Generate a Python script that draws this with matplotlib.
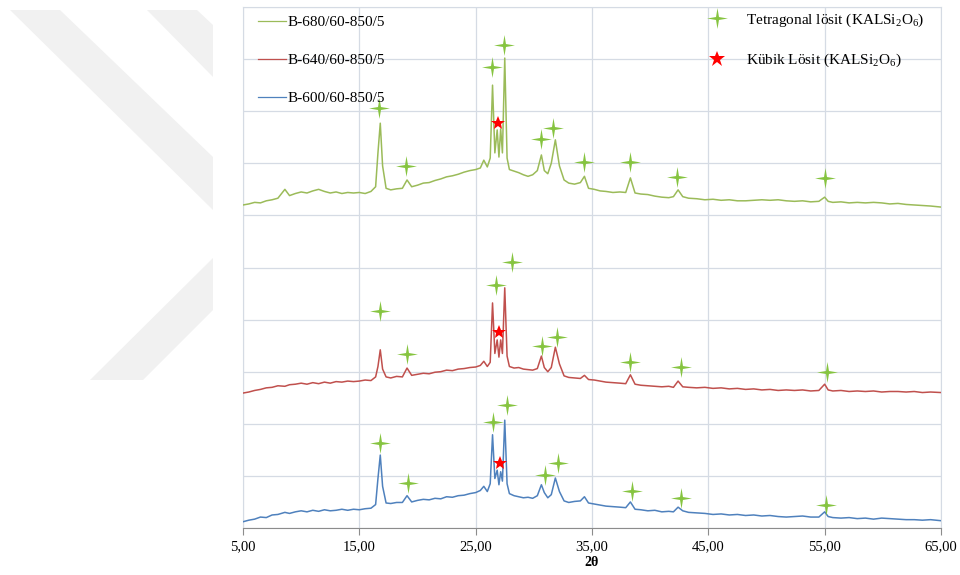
import numpy as np
import matplotlib
matplotlib.use("Agg")
import matplotlib.pyplot as plt
from matplotlib.path import Path
from matplotlib.patches import Polygon
from matplotlib.lines import Line2D

plt.rcParams['font.family'] = ['Liberation Serif', 'DejaVu Serif']
plt.rcParams['mathtext.fontset'] = 'custom'
plt.rcParams['mathtext.rm'] = 'Liberation Serif'

# 2-theta positions shared by the three patterns
two_theta = [5, 5.5, 6, 6.5, 7, 7.5, 8, 8.6, 9, 9.5,
             10, 10.5, 11, 11.5, 12, 12.5, 13, 13.5, 14, 14.5,
             15, 15.5, 16, 16.4, 16.6, 16.8, 17.0, 17.3, 17.7, 18.2,
             18.7, 19.1, 19.5, 20, 20.5, 21, 21.5, 22, 22.5, 23,
             23.5, 24, 24.5, 25, 25.4, 25.7, 26.0, 26.25, 26.45, 26.65,
             26.85, 27.0, 27.15, 27.3, 27.5, 27.7, 27.9, 28.3, 28.7, 29.1,
             29.5, 29.9, 30.3, 30.65, 30.9, 31.2, 31.5, 31.85, 32.2, 32.6,
             33.0, 33.5, 34.0, 34.35, 34.7, 35.2, 35.7, 36.2, 36.8, 37.4,
             37.9, 38.3, 38.7, 39.2, 39.8, 40.4, 41.0, 41.6, 42.0, 42.4,
             42.8, 43.3, 44.0, 44.7, 45.4, 46.1, 46.8, 47.5, 48.2, 48.9,
             49.6, 50.3, 51.0, 51.7, 52.4, 53.1, 53.8, 54.5, 55.0, 55.3,
             55.7, 56.4, 57.1, 57.8, 58.5, 59.2, 59.9, 60.6, 61.3, 62.0,
             62.7, 63.4, 64.1, 65]

# intensities (offset, arbitrary units)
b680 = [6.20, 6.22, 6.25, 6.24, 6.28, 6.30, 6.33, 6.50, 6.38, 6.42,
        6.45, 6.43, 6.47, 6.50, 6.46, 6.43, 6.45, 6.42, 6.44, 6.43,
        6.44, 6.42, 6.46, 6.55, 7.20, 7.77, 6.95, 6.52, 6.49, 6.51,
        6.52, 6.68, 6.55, 6.58, 6.62, 6.63, 6.67, 6.70, 6.74, 6.76,
        6.79, 6.83, 6.86, 6.88, 6.91, 7.06, 6.93, 7.10, 8.50, 7.20,
        7.64, 7.12, 7.66, 7.20, 9.02, 7.10, 6.88, 6.85, 6.82, 6.78,
        6.75, 6.78, 6.86, 7.16, 6.86, 6.80, 7.00, 7.45, 6.95, 6.68,
        6.62, 6.60, 6.63, 6.75, 6.52, 6.50, 6.47, 6.46, 6.44, 6.45,
        6.44, 6.72, 6.43, 6.41, 6.40, 6.37, 6.35, 6.34, 6.36, 6.49,
        6.36, 6.33, 6.32, 6.30, 6.31, 6.29, 6.30, 6.28, 6.28, 6.29,
        6.30, 6.29, 6.30, 6.28, 6.27, 6.28, 6.26, 6.27, 6.35, 6.27,
        6.25, 6.26, 6.24, 6.25, 6.24, 6.25, 6.24, 6.22, 6.23, 6.21,
        6.20, 6.19, 6.18, 6.16]

b640 = [2.59, 2.61, 2.64, 2.66, 2.69, 2.70, 2.73, 2.72, 2.75, 2.76,
        2.78, 2.76, 2.79, 2.77, 2.80, 2.78, 2.81, 2.80, 2.82, 2.81,
        2.82, 2.84, 2.83, 2.90, 3.10, 3.42, 3.05, 2.90, 2.88, 2.91,
        2.90, 3.07, 2.93, 2.95, 2.97, 2.96, 2.99, 3.00, 3.03, 3.02,
        3.05, 3.06, 3.08, 3.09, 3.12, 3.20, 3.10, 3.18, 4.32, 3.35,
        3.61, 3.28, 3.61, 3.35, 4.61, 3.30, 3.10, 3.07, 3.08, 3.05,
        3.04, 3.03, 3.06, 3.30, 3.08, 3.00, 3.08, 3.47, 3.15, 2.92,
        2.89, 2.88, 2.87, 2.93, 2.85, 2.84, 2.82, 2.80, 2.79, 2.78,
        2.77, 2.94, 2.76, 2.74, 2.73, 2.72, 2.71, 2.72, 2.70, 2.82,
        2.71, 2.70, 2.69, 2.70, 2.68, 2.69, 2.67, 2.68, 2.66, 2.67,
        2.65, 2.66, 2.64, 2.65, 2.64, 2.65, 2.63, 2.64, 2.76, 2.65,
        2.63, 2.64, 2.62, 2.63, 2.62, 2.63, 2.61, 2.62, 2.62, 2.61,
        2.62, 2.60, 2.61, 2.60]

b600 = [0.12, 0.15, 0.17, 0.21, 0.20, 0.25, 0.26, 0.30, 0.28, 0.31,
        0.33, 0.31, 0.34, 0.32, 0.35, 0.33, 0.34, 0.36, 0.34, 0.36,
        0.35, 0.37, 0.38, 0.45, 0.95, 1.40, 0.80, 0.48, 0.47, 0.49,
        0.49, 0.62, 0.50, 0.53, 0.55, 0.54, 0.57, 0.56, 0.60, 0.59,
        0.62, 0.63, 0.66, 0.68, 0.72, 0.80, 0.70, 0.85, 1.79, 0.95,
        1.11, 0.83, 1.08, 0.90, 2.07, 0.85, 0.66, 0.62, 0.60, 0.58,
        0.59, 0.57, 0.62, 0.83, 0.68, 0.58, 0.64, 0.96, 0.70, 0.52,
        0.49, 0.51, 0.52, 0.60, 0.48, 0.46, 0.44, 0.42, 0.41, 0.40,
        0.39, 0.50, 0.36, 0.35, 0.33, 0.34, 0.31, 0.32, 0.31, 0.40,
        0.33, 0.30, 0.29, 0.28, 0.26, 0.27, 0.25, 0.26, 0.24, 0.25,
        0.23, 0.24, 0.22, 0.21, 0.22, 0.23, 0.21, 0.21, 0.31, 0.22,
        0.20, 0.19, 0.20, 0.18, 0.19, 0.17, 0.19, 0.18, 0.17, 0.16,
        0.16, 0.15, 0.16, 0.14]

# phase markers: tetragonal leucite (green) and cubic leucite (red)
tet680_x = [16.7, 19.0, 26.4, 27.45, 30.6, 31.65, 34.3, 38.25, 42.3, 55.05]
tet680_y = [8.06, 6.95, 8.85, 9.27, 7.47, 7.68, 7.02, 7.02, 6.74, 6.72]
tet640_x = [16.8, 19.1, 26.75, 28.1, 30.7, 32.0, 38.3, 42.65, 55.2]
tet640_y = [4.17, 3.34, 4.66, 5.11, 3.49, 3.67, 3.19, 3.09, 2.99]
tet600_x = [16.8, 19.2, 26.5, 27.7, 31.0, 32.1, 38.45, 42.65, 55.1]
tet600_y = [1.63, 0.86, 2.03, 2.36, 1.02, 1.25, 0.71, 0.58, 0.44]
kub_x = [26.92, 27.0, 27.1]
kub_y = [7.77, 3.76, 1.25]

labels = ['B-680/60-850/5', 'B-640/60-850/5', 'B-600/60-850/5']
colors = ['#9BBB59', '#C0504D', '#4F81BD']
tet_color = '#86C440'

# four-pointed sparkle used for the tetragonal peaks
ang = np.arange(8) * np.pi / 4
rad = np.where(np.arange(8) % 2 == 0, 1.0, 0.2)
verts = np.column_stack([rad * np.sin(ang), rad * np.cos(ang)])
verts = np.vstack([verts, verts[:1]])
sparkle = Path(verts, [Path.MOVETO] + [Path.LINETO] * 7 + [Path.CLOSEPOLY])

fig = plt.figure(figsize=(9.6, 5.75), dpi=100)

# light grey background stripes on the left of the page
for pts in [[(10, 10), (60, 10), (213, 157), (213, 210)],
            [(147, 10), (197, 10), (213, 25), (213, 77)],
            [(213, 258), (213, 310), (143, 380), (90, 380)]]:
    fig.patches.append(Polygon([(px / 960, 1 - py / 575) for px, py in pts],
                               closed=True, transform=fig.transFigure,
                               facecolor='#f1f1f1', edgecolor='none', zorder=0))

ax = fig.add_axes([243 / 960, 1 - 528 / 575, 698 / 960, 521 / 575])

for ys, lab, c in zip([b680, b640, b600], labels, colors):
    ax.plot(two_theta, ys, color=c, lw=1.1, label=lab, zorder=3)

ax.plot(tet680_x, tet680_y, ls='none', marker=sparkle, ms=15, color=tet_color, mew=0, zorder=4)
ax.plot(tet640_x, tet640_y, ls='none', marker=sparkle, ms=15, color=tet_color, mew=0, zorder=4)
ax.plot(tet600_x, tet600_y, ls='none', marker=sparkle, ms=15, color=tet_color, mew=0, zorder=4)
ax.plot(kub_x, kub_y, ls='none', marker='*', ms=10, color='#FF0000', mew=0, zorder=5)

ax.set_xlim(5, 65)
ax.set_ylim(0, 10)
ax.set_xticks(range(5, 66, 10))
ax.set_xticklabels([f'{v:.2f}'.replace('.', ',') for v in range(5, 66, 10)])
ax.set_yticks(range(0, 11))
ax.tick_params(axis='y', length=0, labelleft=False)
ax.tick_params(axis='x', direction='out', length=5, color='#8c8c8c', labelsize=10.5, pad=4)
ax.grid(True, color='#d5dbe4', lw=0.9, zorder=0)
ax.set_axisbelow(True)
for side in ['left', 'top', 'right']:
    ax.spines[side].set_color('#d5dbe4')
ax.spines['bottom'].set_color('#8c8c8c')
ax.set_xlabel('2θ', fontsize=10, fontweight='bold', labelpad=2)

leg1 = ax.legend(loc='upper left', bbox_to_anchor=(0.013, 0.996), borderaxespad=0,
                 frameon=False, fontsize=11, handlelength=1.8, handletextpad=0.1,
                 labelspacing=1.6)
for h in leg1.get_lines():
    h.set_linewidth(0.9)
ax.add_artist(leg1)

phase_handles = [Line2D([], [], ls='none', marker=sparkle, ms=15, color=tet_color, mew=0),
                 Line2D([], [], ls='none', marker='*', ms=12, color='#FF0000', mew=0)]
phase_labels = ['Tetragonal lösit (KALSi$_2$O$_6$)', 'Kübik Lösit (KALSi$_2$O$_6$)']
ax.legend(phase_handles, phase_labels, loc='upper left', bbox_to_anchor=(0.649, 1.003),
          borderaxespad=0, frameon=False, fontsize=11, handlelength=2.0,
          handletextpad=0.85, labelspacing=1.5)

fig.savefig('out.png', dpi=100)
